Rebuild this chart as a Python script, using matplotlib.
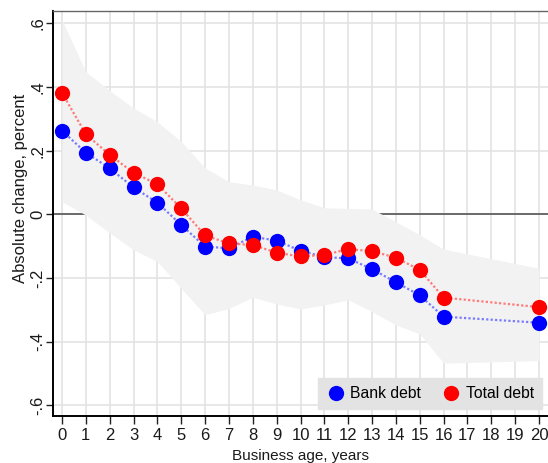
import numpy as np
import matplotlib
matplotlib.use("Agg")
import matplotlib.pyplot as plt

plt.rcParams['font.family'] = ['Liberation Sans', 'DejaVu Sans']

# ----- Data: business age and estimated absolute change (percent) -----
age = [0, 1, 2, 3, 4, 5, 6, 7, 8, 9, 10, 11, 12, 13, 14, 15, 16, 20]

bank_debt = [0.263, 0.194, 0.145, 0.085, 0.037, -0.033, -0.101, -0.106, -0.070,
             -0.082, -0.114, -0.134, -0.138, -0.172, -0.213, -0.254, -0.321, -0.340]

total_debt = [0.382, 0.252, 0.187, 0.131, 0.095, 0.019, -0.066, -0.091, -0.096,
              -0.120, -0.132, -0.127, -0.109, -0.115, -0.136, -0.174, -0.261, -0.291]

ci_upper = [0.611, 0.448, 0.389, 0.334, 0.291, 0.229, 0.146, 0.103, 0.092,
            0.077, 0.046, 0.021, 0.019, 0.017, -0.023, -0.064, -0.109, -0.169]

ci_lower = [0.040, -0.002, -0.058, -0.111, -0.148, -0.232, -0.315, -0.295, -0.260,
            -0.281, -0.297, -0.284, -0.268, -0.305, -0.347, -0.375, -0.467, -0.459]

x_ticks = list(range(0, 21))
y_ticks = [-0.6, -0.4, -0.2, 0, 0.2, 0.4, 0.6]
y_tick_labels = ["-.6", "-.4", "-.2", "0", ".2", ".4", ".6"]

# ----- Figure -----
fig = plt.figure(figsize=(5.48, 4.63), dpi=100)
ax = fig.add_axes([53 / 548, 47 / 463, 495 / 548, 405 / 463])

ax.set_xlim(-0.377, 20.377)
ax.set_ylim(-0.633, 0.639)

# grid and zero line sit below the confidence band
for xv in x_ticks:
    ax.axvline(xv, color='#e3e3e3', lw=1.2, zorder=0.5)
for yv in y_ticks:
    ax.axhline(yv, color='#e3e3e3', lw=1.2, zorder=0.5)
ax.axhline(0, color='#555555', lw=1.2, zorder=1)

ax.fill_between(age, ci_lower, ci_upper, color='#f2f2f2', lw=0, zorder=1.5)

ax.plot(age, bank_debt, color='#7a7aff', lw=1.6, ls=(0, (1, 1)), zorder=2)
ax.plot(age, total_debt, color='#ff7a7a', lw=1.6, ls=(0, (1, 1)), zorder=2)
ax.plot(age, bank_debt, 'o', color='#0000ff', ms=11, mew=0, zorder=3,
        label='Bank debt')
ax.plot(age, total_debt, 'o', color='#ff0000', ms=11, mew=0, zorder=4,
        label='Total debt')

# ----- Axes styling -----
ax.set_xticks(x_ticks)
ax.set_xticklabels([str(v) for v in x_ticks], fontsize=12, color='#1a1a1a')
ax.set_yticks(y_ticks)
ax.set_yticklabels(y_tick_labels, fontsize=12, rotation=90, va='center',
                   color='#1a1a1a')
ax.tick_params(axis='x', length=6, width=1, pad=3, color='#222222')
ax.tick_params(axis='y', length=5, width=1, pad=0.5, color='#222222')

ax.spines['left'].set_color('black')
ax.spines['left'].set_linewidth(1.4)
ax.spines['bottom'].set_color('black')
ax.spines['bottom'].set_linewidth(1.4)
ax.spines['top'].set_color('#666666')
ax.spines['top'].set_linewidth(1.0)
ax.spines['right'].set_visible(False)

ax.set_xlabel('Business age, years', fontsize=11, color='#1a1a1a')
ax.xaxis.set_label_coords((301 - 53) / 495, -(449 - 416) / 405)
ax.set_ylabel('Absolute change, percent', fontsize=12, color='#1a1a1a')
ax.yaxis.set_label_coords(-(53 - 28) / 495, (416 - 188) / 405)

leg = ax.legend(loc='lower right', bbox_to_anchor=(0.988, 0.017), ncol=2,
                fontsize=11.3, frameon=True, fancybox=False, facecolor='#e3e3e3',
                edgecolor='#e3e3e3', framealpha=1, handletextpad=0.35,
                columnspacing=1.3, borderpad=0.5, handlelength=1.2,
                borderaxespad=0, markerscale=1.0)
leg.set_zorder(5)

fig.savefig('out.png', dpi=100)
